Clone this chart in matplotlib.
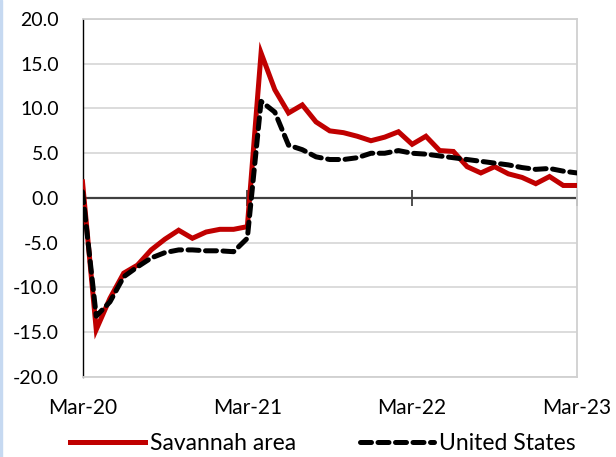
import matplotlib.pyplot as plt
from matplotlib.lines import Line2D

# Monthly year-over-year change, Mar-20 through Mar-23
savannah = [1.8, -14.7, -11.2, -8.4, -7.5, -5.8, -4.6, -3.6, -4.5, -3.8, -3.5, -3.5,
            -3.2, 16.2, 12.1, 9.5, 10.4, 8.5, 7.5, 7.3, 6.9, 6.4, 6.8, 7.4, 6.0,
            6.9, 5.3, 5.2, 3.5, 2.8, 3.5, 2.7, 2.3, 1.6, 2.4, 1.4, 1.4]
united_states = [0.7, -13.2, -11.6, -8.8, -7.7, -6.7, -6.1, -5.8, -5.8, -5.9, -5.9, -6.0,
                 -4.5, 10.8, 9.6, 5.9, 5.4, 4.6, 4.3, 4.3, 4.5, 5.0, 5.0, 5.3, 5.0,
                 4.9, 4.7, 4.5, 4.3, 4.1, 3.9, 3.7, 3.4, 3.2, 3.3, 3.0, 2.8]
tick_pos = [0, 12, 24, 36]
tick_labels = ["Mar-20", "Mar-21", "Mar-22", "Mar-23"]

plt.rcParams["font.family"] = ["Lato", "DejaVu Sans"]

fig = plt.figure(figsize=(6.16, 4.57), dpi=100)
ax = fig.add_axes([82.5 / 616, 1 - 377 / 457, (577 - 82.5) / 616, (377 - 19) / 457])

months = list(range(len(savannah)))
ax.plot(months, savannah, color="#C00000", lw=3.6, solid_joinstyle="miter", zorder=4)
ax.plot(months, united_states, color="black", lw=3.6, dashes=(2.2, 1.3),
        dash_capstyle="round", zorder=5)

ax.set_xlim(0, 36)
ax.set_ylim(-20, 20)
ax.set_yticks(range(-20, 21, 5))
ax.set_yticklabels([f"{v:.1f}" for v in range(-20, 21, 5)], fontsize=14)
ax.yaxis.grid(True, color="#D9D9D9", lw=1.3)
ax.set_axisbelow(True)
ax.tick_params(axis="y", length=0, pad=17)

ax.set_xticks(tick_pos)
ax.set_xticklabels(tick_labels, fontsize=15)
ax.tick_params(axis="x", length=0, pad=15)

for side in ["top", "right", "bottom"]:
    ax.spines[side].set_color("#D0D0D0")
    ax.spines[side].set_linewidth(1.3)
ax.spines["left"].set_color("black")
ax.spines["left"].set_linewidth(1.0)

# zero line with tick marks at each March
ax.axhline(0, color="#404040", lw=1.6, zorder=2)
ax.plot(tick_pos[1:], [0] * 3, ls="none", marker="|", ms=11, mew=1.3,
        color="#404040", clip_on=False, zorder=2)

handles = [Line2D([], [], color="#C00000", lw=3.6),
           Line2D([], [], color="black", lw=3.6, dashes=(2.2, 1.3), dash_capstyle="round")]
fig.legend(handles, ["Savannah area", "United States"], loc="center",
           bbox_to_anchor=(323 / 616, 1 - 444 / 457), ncol=2, frameon=False, fontsize=16.5,
           handlelength=3.25, handletextpad=0.22, columnspacing=2.8)

# thin blue strip along the left edge
fig.patches.append(plt.Rectangle((0, 0), 2.5 / 616, 1, transform=fig.transFigure,
                                 color="#C6D9F1", zorder=0))

fig.savefig("out.png", dpi=100)
